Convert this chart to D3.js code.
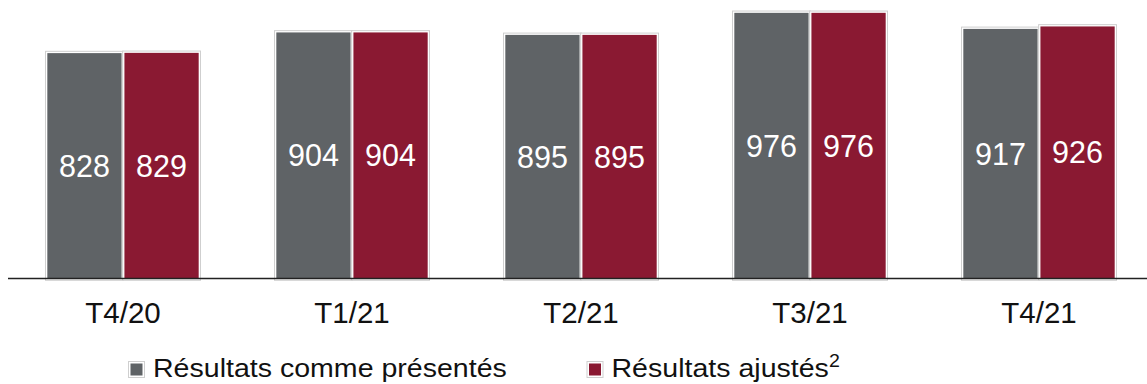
<!DOCTYPE html>
<html>
<head>
<meta charset="utf-8">
<script src="https://cdn.jsdelivr.net/npm/d3@7"></script>
<style>
  html, body { margin: 0; padding: 0; background: #fff; }
  svg { display: block; font-family: "Liberation Sans", Arial, sans-serif; }
</style>
</head>
<body>
<svg id="chart" width="1147" height="384"></svg>
<script>
const categories = ["T4/20", "T1/21", "T2/21", "T3/21", "T4/21"];
const seriesNames = ["Résultats comme présentés", "Résultats ajustés"];
const reported = [828, 904, 895, 976, 917];
const adjusted = [829, 904, 895, 976, 926];
const colors = ["#5f6366", "#8a1932"];

const svg = d3.select("#chart");
const baseline = 278.5;

const x0 = d3.scaleBand().domain(categories).range([8.5, 1153.5])
  .paddingInner(0.339).paddingOuter(0.1695);
const x1 = d3.scaleBand().domain([0, 1]).range([0, x0.bandwidth()]).paddingInner(0.037);
const y = d3.scaleLinear().domain([0, 1000]).range([baseline, baseline - 272.2]);

const data = [];
categories.forEach((c, i) => {
  [reported[i], adjusted[i]].forEach((v, s) => data.push({ c, s, v }));
});

const g = svg.append("g");
// outline (light grey) + white halo
g.selectAll("rect.halo").data(data).join("rect")
  .attr("class", "halo")
  .attr("x", d => x0(d.c) + x1(d.s) - 1.8)
  .attr("y", d => y(d.v) - 1.8)
  .attr("width", x1.bandwidth() + 3.6)
  .attr("height", d => baseline - y(d.v) + 3.6)
  .attr("fill", "#fff")
  .attr("stroke", "#cfcfcf")
  .attr("stroke-width", 1);

g.selectAll("rect.bar").data(data).join("rect")
  .attr("class", "bar")
  .attr("x", d => x0(d.c) + x1(d.s))
  .attr("y", d => y(d.v))
  .attr("width", x1.bandwidth())
  .attr("height", d => baseline - y(d.v))
  .attr("fill", d => colors[d.s]);

// axis line
svg.append("line")
  .attr("x1", 8).attr("x2", 1147)
  .attr("y1", baseline).attr("y2", baseline)
  .attr("stroke", "#222").attr("stroke-width", 1.3);

// value labels
g.selectAll("text.val").data(data).join("text")
  .attr("class", "val")
  .attr("x", d => x0(d.c) + x1(d.s) + x1.bandwidth() / 2)
  .attr("y", d => (y(d.v) + baseline) / 2 + 10.9)
  .attr("text-anchor", "middle")
  .attr("font-size", 30.5)
  .attr("fill", "#fff")
  .text(d => d.v);

// category labels
svg.selectAll("text.cat").data(categories).join("text")
  .attr("class", "cat")
  .attr("x", d => x0(d) + x0.bandwidth() / 2)
  .attr("y", 323.3)
  .attr("text-anchor", "middle")
  .attr("font-size", 29.5)
  .attr("fill", "#111")
  .text(d => d);

// legend
const legendItems = [
  { name: seriesNames[0], color: colors[0], x: 128.5, sup: null },
  { name: seriesNames[1], color: colors[1], x: 587, sup: "2" }
];
legendItems.forEach(it => {
  const lg = svg.append("g");
  lg.append("rect")
    .attr("x", it.x).attr("y", 361.5)
    .attr("width", 16).attr("height", 16)
    .attr("fill", "#fff").attr("stroke", "#cfcfcf").attr("stroke-width", 1);
  lg.append("rect")
    .attr("x", it.x + 2).attr("y", 363.5)
    .attr("width", 12).attr("height", 12)
    .attr("fill", it.color);
  const t = lg.append("text")
    .attr("transform", `translate(${it.x + 24.5},376.7) scale(1.12,1)`)
    .attr("font-size", 25.5)
    .attr("fill", "#111")
    .text(it.name);
  if (it.sup) {
    t.append("tspan").attr("font-size", 17.5).attr("dy", -9.5).attr("dx", 0).text(it.sup);
  }
});
</script>
</body>
</html>
